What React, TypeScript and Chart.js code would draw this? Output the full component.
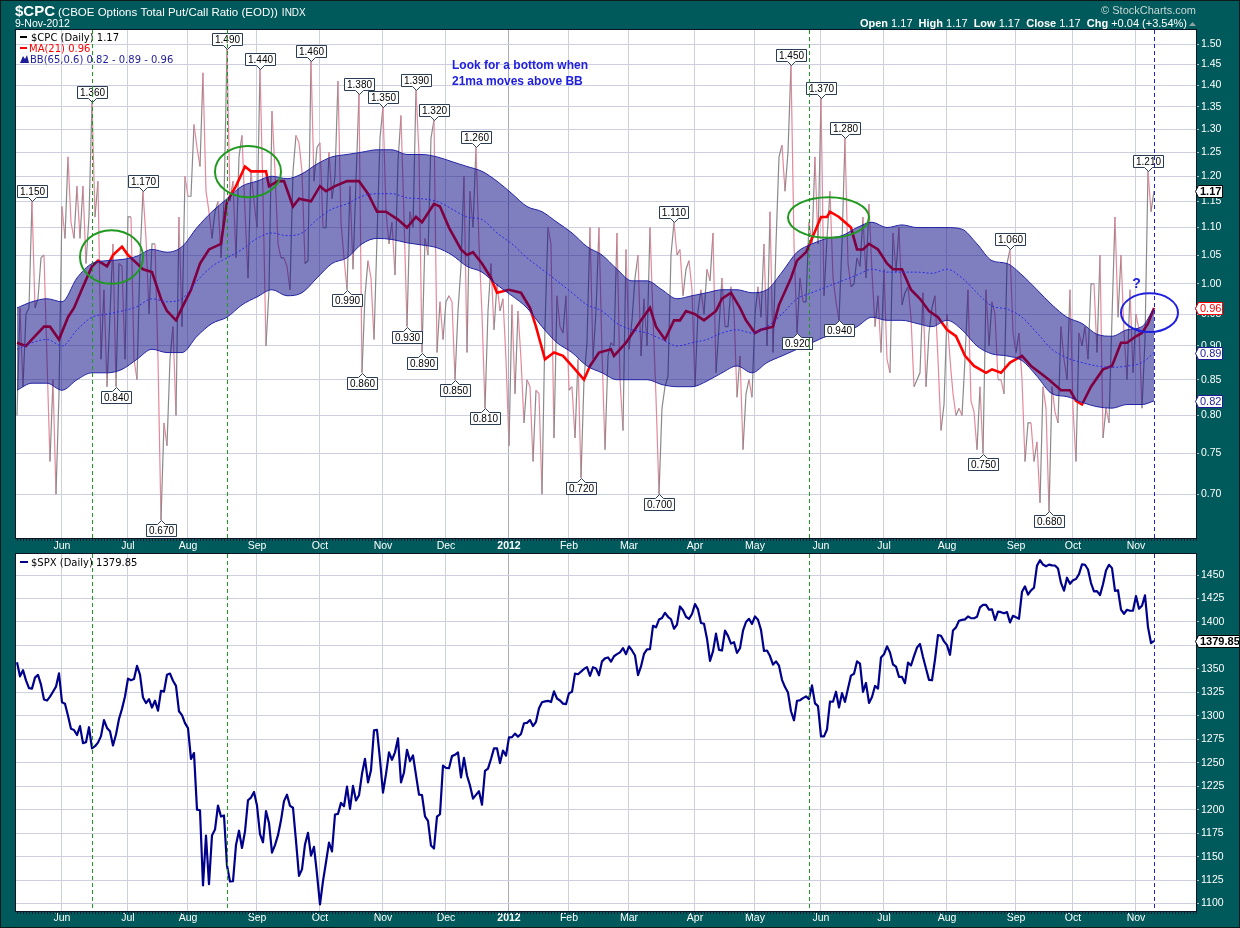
import React, { useEffect, useRef } from 'react';
import { Chart, registerables } from 'chart.js';

Chart.register(...registerables);

// ---------------- data ----------------
const chartDate = '9-Nov-2012';
const monthLabels = ['Jun', 'Jul', 'Aug', 'Sep', 'Oct', 'Nov', 'Dec', '2012', 'Feb', 'Mar', 'Apr', 'May', 'Jun', 'Jul', 'Aug', 'Sep', 'Oct', 'Nov'];
// trading days per month, May-2011 (partial, from May 10) .. Nov-2012 (to Nov 9)
const monthTradingDays = [15, 22, 20, 23, 21, 21, 21, 21, 20, 20, 22, 20, 22, 21, 21, 23, 19, 21, 7];

const cpcTicks = [0.7, 0.75, 0.8, 0.85, 0.9, 0.95, 1.0, 1.05, 1.1, 1.15, 1.2, 1.25, 1.3, 1.35, 1.4, 1.45, 1.5];
const spxTicks = [1100, 1125, 1150, 1175, 1200, 1225, 1250, 1275, 1300, 1325, 1350, 1375, 1400, 1425, 1450];

// $CPC daily close (trading day 0 = 10-May-2011)
const cpcClose = [
  0.80, 0.96, 0.84, 0.95, 0.96, 1.15, 0.96, 0.975, 1.045, 1.05,
  0.88, 0.74, 0.85, 0.70, 0.83, 1.14, 1.08, 1.24, 1.11, 1.08,
  1.18, 1.08, 1.18, 1.035, 1.12, 1.36, 1.12, 1.19, 0.88, 0.99,
  0.84, 0.95, 1.07, 0.84, 1.035, 1.03, 0.88, 1.12, 1.12, 0.88,
  0.85, 1.045, 1.17, 1.08, 0.95, 1.07, 1.07, 0.88, 0.67, 0.79,
  0.76, 0.88, 0.93, 0.80, 1.12, 0.93, 1.20, 1.16, 1.16, 1.31,
  1.26, 1.22, 1.43, 1.17, 1.13, 1.08, 1.13, 1.15, 1.045, 1.15,
  1.49, 1.15, 1.19, 1.045, 1.24, 1.286, 1.13, 1.01, 1.21, 1.15,
  1.10, 1.44, 1.16, 0.90, 0.99, 1.34, 1.21, 1.07, 1.045, 1.045,
  1.03, 0.99, 1.21, 1.286, 1.27, 1.21, 1.035, 1.04, 1.46, 1.19,
  1.26, 1.27, 1.10, 1.10, 1.25, 1.155, 1.20, 1.41, 1.11, 1.045,
  0.99, 1.18, 1.025, 1.19, 1.38, 0.86, 0.98, 1.04, 1.01, 0.91,
  1.08, 1.28, 1.35, 1.13, 1.07, 1.11, 1.015, 1.23, 1.33, 1.12,
  0.93, 1.13, 1.10, 1.39, 1.245, 0.89, 1.08, 1.05, 1.28, 1.32,
  0.89, 0.97, 0.91, 0.97, 0.98, 0.97, 0.85, 0.955, 1.03, 1.20,
  0.89, 1.17, 1.10, 1.26, 1.07, 0.95, 0.81, 0.955, 1.035, 0.925,
  1.00, 0.955, 0.975, 0.88, 0.76, 0.965, 0.83, 0.955, 0.88, 0.79,
  0.85, 0.84, 0.74, 0.835, 0.83, 0.70, 0.93, 1.10, 1.07, 0.77,
  0.98, 0.93, 0.92, 0.98, 0.835, 0.84, 0.77, 0.88, 0.72, 0.85,
  0.905, 1.10, 0.88, 0.955, 1.10, 0.89, 0.755, 0.885, 0.905, 0.90,
  1.09, 0.85, 0.78, 1.06, 0.895, 0.94, 1.01, 1.05, 0.885, 0.975,
  0.90, 1.10, 0.945, 0.825, 0.70, 0.81, 0.84, 0.855, 1.05, 1.11,
  1.05, 1.06, 0.98, 1.025, 1.04, 0.99, 0.84, 0.955, 0.99, 0.95,
  1.025, 1.005, 1.09, 0.86, 0.93, 1.01, 0.93, 0.93, 0.995, 0.955,
  0.825, 0.885, 0.755, 0.83, 0.85, 0.825, 0.95, 0.995, 0.945, 1.07,
  0.90, 1.13, 0.89, 1.07, 1.24, 1.265, 1.17, 1.25, 1.45, 1.07,
  0.92, 1.01, 0.97, 0.97, 1.11, 1.07, 1.24, 1.07, 1.37, 0.98,
  1.08, 1.17, 1.01, 0.97, 0.94, 1.07, 1.28, 1.035, 0.995, 1.00,
  1.045, 1.03, 1.12, 1.01, 1.145, 1.02, 0.93, 0.98, 0.89, 1.025,
  0.88, 0.86, 1.09, 1.02, 1.10, 0.965, 0.985, 0.995, 0.945, 0.84,
  0.85, 0.86, 0.985, 0.84, 0.92, 0.96, 0.98, 0.88, 0.78, 0.815,
  0.95, 0.88, 0.83, 0.80, 0.81, 0.80, 0.88, 0.99, 0.82, 0.805,
  0.755, 0.84, 0.75, 0.99, 0.90, 0.97, 0.95, 0.85, 0.85, 0.83,
  1.035, 1.06, 0.92, 0.89, 0.92, 0.85, 0.74, 0.79, 0.79, 0.74,
  0.765, 0.69, 0.84, 0.81, 0.68, 0.84, 0.805, 0.79, 0.93, 0.88,
  0.85, 0.99, 0.81, 0.74, 0.92, 0.90, 0.93, 0.88, 1.00, 1.00,
  0.89, 1.05, 0.77, 0.81, 0.79, 0.945, 1.12, 0.945, 1.05, 0.92,
  0.85, 0.99, 0.86, 0.95, 0.925, 0.81, 0.91, 1.21, 1.13, 1.17,
];

// MA(21)
const maDay = [0, 3, 5, 9, 11, 14, 17, 19, 22, 25, 27, 30, 32, 35, 37, 39, 42, 45, 48, 50,
  53, 55, 58, 61, 64, 68, 70, 73, 76, 78, 80, 83, 84, 87, 89, 92, 94, 98, 101, 103,
  106, 110, 114, 117, 120, 123, 127, 130, 133, 135, 139, 141, 144, 148, 150, 152, 155, 158, 160, 164,
  168, 171, 173, 176, 179, 182, 185, 189, 191, 194, 198, 199, 201, 203, 208, 211, 213, 216, 219, 221,
  223, 226, 229, 233, 235, 238, 241, 243, 246, 248, 252, 254, 258, 260, 263, 265, 268, 270, 271, 274,
  276, 278, 280, 282, 284, 287, 290, 292, 295, 298, 301, 304, 307, 310, 313, 316, 319, 323, 325, 328,
  331, 335, 338, 341, 344, 348, 351, 353, 355, 358, 362, 365, 368, 370, 373, 375, 377, 379];
const maValue = [0.905, 0.90, 0.91, 0.93, 0.93, 0.91, 0.945, 0.96, 0.995, 1.03, 1.04, 1.03, 1.05, 1.065, 1.05, 1.04, 1.025, 1.02, 0.975, 0.955,
  0.94, 0.96, 0.99, 1.035, 1.06, 1.07, 1.15, 1.18, 1.22, 1.21, 1.21, 1.21, 1.18, 1.19, 1.19, 1.14, 1.155, 1.15, 1.18, 1.17,
  1.18, 1.19, 1.19, 1.165, 1.13, 1.13, 1.115, 1.10, 1.12, 1.11, 1.145, 1.14, 1.10, 1.06, 1.05, 1.055, 1.035, 1.01, 0.985, 0.99,
  0.985, 0.96, 0.93, 0.88, 0.89, 0.885, 0.87, 0.85, 0.87, 0.89, 0.895, 0.885, 0.895, 0.905, 0.94, 0.96, 0.93, 0.91, 0.94, 0.94,
  0.955, 0.95, 0.94, 0.955, 0.975, 0.985, 0.96, 0.94, 0.92, 0.925, 0.93, 0.965, 1.01, 1.04, 1.055, 1.08, 1.12, 1.12, 1.13, 1.12,
  1.11, 1.10, 1.06, 1.06, 1.07, 1.06, 1.035, 1.025, 1.025, 0.99, 0.975, 0.955, 0.945, 0.925, 0.915, 0.885, 0.87, 0.86, 0.865, 0.86,
  0.875, 0.885, 0.87, 0.86, 0.85, 0.835, 0.835, 0.82, 0.815, 0.84, 0.865, 0.87, 0.905, 0.905, 0.915, 0.92, 0.935, 0.96];

// BB(65,0.6)
const bbDay = [0, 5, 10, 15, 20, 25, 30, 35, 40, 45, 50, 55, 60, 65, 70, 75, 80, 85, 90, 95,
  100, 105, 110, 115, 120, 125, 130, 135, 140, 145, 150, 155, 160, 165, 170, 175, 180, 185, 190, 195,
  200, 205, 210, 215, 220, 225, 230, 235, 240, 245, 250, 255, 260, 265, 270, 275, 280, 285, 290, 295,
  300, 305, 310, 315, 320, 325, 330, 335, 340, 345, 350, 355, 360, 365, 370, 375, 379];
const bbUpper = [0.96, 0.97, 0.975, 0.97, 1.01, 1.035, 1.04, 1.042, 1.048, 1.06, 1.055, 1.065, 1.10, 1.13, 1.155, 1.18, 1.19, 1.20, 1.195, 1.205,
  1.225, 1.24, 1.245, 1.25, 1.255, 1.255, 1.245, 1.245, 1.24, 1.23, 1.22, 1.21, 1.19, 1.165, 1.14, 1.13, 1.11, 1.09, 1.065, 1.05,
  1.025, 1.005, 1.005, 0.99, 0.975, 0.98, 0.985, 0.99, 0.99, 0.985, 0.99, 1.02, 1.055, 1.07, 1.08, 1.085, 1.10, 1.11, 1.10, 1.105,
  1.10, 1.10, 1.10, 1.097, 1.07, 1.04, 1.035, 1.015, 0.99, 0.965, 0.945, 0.935, 0.918, 0.915, 0.925, 0.93, 0.96];
const bbMiddle = [0.895, 0.905, 0.91, 0.90, 0.925, 0.945, 0.95, 0.955, 0.962, 0.975, 0.97, 0.975, 1.005, 1.03, 1.045, 1.06, 1.08, 1.09, 1.085, 1.09,
  1.115, 1.135, 1.145, 1.16, 1.165, 1.165, 1.157, 1.155, 1.15, 1.135, 1.12, 1.115, 1.09, 1.07, 1.045, 1.025, 1.005, 0.985, 0.965, 0.955,
  0.935, 0.925, 0.92, 0.91, 0.90, 0.905, 0.91, 0.92, 0.925, 0.92, 0.93, 0.95, 0.975, 0.985, 0.995, 1.005, 1.015, 1.025, 1.02, 1.02,
  1.02, 1.018, 1.025, 1.01, 0.985, 0.963, 0.958, 0.945, 0.92, 0.895, 0.882, 0.875, 0.87, 0.868, 0.87, 0.875, 0.89];
const bbLower = [0.835, 0.845, 0.845, 0.835, 0.85, 0.86, 0.86, 0.865, 0.88, 0.895, 0.89, 0.89, 0.915, 0.935, 0.945, 0.965, 0.978, 0.99, 0.98, 0.985,
  1.01, 1.035, 1.045, 1.07, 1.08, 1.078, 1.072, 1.068, 1.063, 1.05, 1.03, 1.02, 0.998, 0.98, 0.96, 0.93, 0.905, 0.89, 0.87, 0.86,
  0.85, 0.85, 0.85, 0.843, 0.84, 0.84, 0.848, 0.86, 0.87, 0.86, 0.875, 0.885, 0.895, 0.905, 0.915, 0.92, 0.93, 0.945, 0.94, 0.94,
  0.935, 0.93, 0.94, 0.925, 0.90, 0.888, 0.885, 0.878, 0.855, 0.83, 0.826, 0.818, 0.812, 0.81, 0.815, 0.815, 0.82];

// $SPX daily close, same trading days
const spxClose = [
  1357.16, 1342.08, 1348.65, 1337.77, 1329.47, 1328.98, 1340.68, 1343.60, 1333.27, 1317.37, 1316.28, 1320.47, 1325.69, 1331.10, 1345.20,
  1314.55, 1312.94, 1300.16, 1286.17, 1284.94, 1279.56, 1289.00, 1270.98, 1271.83, 1287.87, 1265.42, 1267.64, 1271.50, 1278.36, 1295.52, 1287.14, 1283.50, 1268.45, 1280.10, 1296.67, 1307.41, 1320.64,
  1339.67, 1337.88, 1339.22, 1353.22, 1343.80, 1319.49, 1313.64, 1317.72, 1308.87, 1316.14, 1305.44, 1326.73, 1325.84, 1343.80, 1345.02, 1337.43, 1331.94, 1304.89, 1300.67, 1292.28,
  1286.94, 1254.05, 1260.34, 1200.07, 1199.38, 1119.46, 1172.53, 1120.76, 1172.64, 1178.81, 1204.49, 1192.76, 1193.89, 1140.65, 1123.53, 1123.82, 1162.35, 1177.60, 1159.27, 1176.80, 1210.08, 1212.92, 1218.89,
  1204.42, 1173.97, 1165.24, 1198.62, 1185.90, 1154.23, 1162.27, 1172.87, 1188.68, 1209.11, 1216.01, 1204.09, 1202.09, 1166.76, 1129.56, 1136.43, 1162.95, 1175.38, 1151.06, 1160.40, 1131.42,
  1099.23, 1123.95, 1144.03, 1164.97, 1155.46, 1194.89, 1195.54, 1207.25, 1203.66, 1224.58, 1200.86, 1225.38, 1209.88, 1215.39, 1238.25, 1254.19, 1229.05, 1242.00, 1284.59, 1285.09, 1253.30,
  1218.28, 1237.90, 1261.15, 1253.23, 1261.12, 1275.92, 1229.10, 1239.70, 1263.85, 1251.78, 1257.81, 1236.91, 1216.13, 1215.65, 1192.98, 1188.04, 1161.79, 1158.67, 1192.55, 1195.19, 1246.96,
  1244.58, 1244.28, 1257.08, 1258.47, 1261.01, 1234.35, 1255.19, 1236.47, 1225.73, 1211.82, 1215.75, 1219.66, 1205.35, 1241.30, 1243.72, 1254.00, 1265.33, 1265.43, 1249.64, 1263.02, 1257.60,
  1277.06, 1277.30, 1281.06, 1277.81, 1280.70, 1292.08, 1292.48, 1295.50, 1289.09, 1293.67, 1308.04, 1314.50, 1315.38, 1316.00, 1314.65, 1326.06, 1318.43, 1316.33, 1313.01, 1312.41,
  1324.09, 1325.54, 1344.90, 1344.33, 1347.05, 1349.96, 1351.95, 1342.64, 1351.77, 1350.50, 1343.23, 1358.04, 1361.23, 1362.21, 1357.66, 1363.46, 1365.74, 1367.59, 1372.18, 1365.68,
  1374.09, 1369.63, 1364.33, 1343.36, 1352.63, 1365.91, 1370.87, 1371.09, 1395.95, 1394.28, 1402.60, 1404.17, 1409.75, 1405.52, 1402.89, 1392.78, 1397.11, 1416.51, 1412.52, 1405.54, 1403.28, 1408.47,
  1419.04, 1413.38, 1398.96, 1398.08, 1382.20, 1358.59, 1368.71, 1387.57, 1370.26, 1369.57, 1390.78, 1385.14, 1376.92, 1378.53, 1366.94, 1371.97, 1390.69, 1399.98, 1403.36, 1397.91,
  1405.82, 1402.31, 1391.57, 1369.10, 1369.58, 1363.72, 1354.58, 1357.99, 1353.39, 1338.35, 1330.66, 1324.80, 1304.86, 1295.22, 1315.99, 1316.63, 1318.86, 1320.68, 1317.82, 1332.42, 1313.32, 1310.33,
  1278.04, 1278.18, 1285.50, 1315.13, 1314.99, 1325.66, 1308.93, 1324.18, 1314.88, 1329.10, 1342.84, 1344.78, 1357.98, 1355.69, 1325.51, 1335.02, 1313.72, 1319.99, 1331.85, 1329.04, 1362.16,
  1365.51, 1374.02, 1367.58, 1354.68, 1352.46, 1341.47, 1341.45, 1334.76, 1356.78, 1353.64, 1363.67, 1372.78, 1376.51, 1362.66, 1350.52, 1338.31, 1337.89, 1360.02, 1385.97, 1385.30, 1379.32,
  1375.32, 1365.00, 1390.99, 1394.23, 1401.35, 1402.22, 1402.80, 1405.87, 1404.11, 1403.93, 1405.53, 1415.51, 1418.16, 1418.13, 1413.17, 1413.49, 1402.08, 1411.13, 1410.44, 1409.30, 1410.49, 1399.48, 1406.58,
  1404.94, 1403.44, 1432.12, 1437.92, 1429.08, 1433.56, 1436.56, 1459.99, 1465.77, 1461.19, 1459.32, 1461.05, 1460.26, 1460.15, 1456.89, 1441.59, 1433.32, 1447.15, 1440.67,
  1444.49, 1445.75, 1450.99, 1461.40, 1460.93, 1455.88, 1441.48, 1432.56, 1432.84, 1428.59, 1440.13, 1454.92, 1460.91, 1457.34, 1433.19, 1433.82, 1413.11, 1408.75, 1412.97, 1411.94, 1412.16,
  1427.59, 1414.20, 1417.26, 1428.39, 1394.53, 1377.51, 1379.85,
];

// annotations
const calloutDays = [5, 25, 33, 42, 48, 70, 81, 98, 110, 114, 115, 122, 130, 133, 135, 139, 146, 153, 156, 188, 214, 219, 258, 260, 268, 274, 276, 322, 331, 344, 377];
const greenMarkerDays = [25, 70, 264];
const ellipseNotes = [
  { from: 21, to: 42, lo: 1.0, hi: 1.095, color: 'green' },
  { from: 66, to: 88, lo: 1.158, hi: 1.263, color: 'green' },
  { from: 257, to: 284, lo: 1.081, hi: 1.158, color: 'green' },
  { from: 368, to: 387, lo: 0.9215, hi: 0.984, color: 'blue' },
];
const noteLines = ['Look for a bottom when', '21ma moves above BB'];
const noteDay = 145;
const noteValues = [1.438, 1.40];
const questionDay = 373.2;
const questionValue = 0.993;

// ---------------- styling ----------------
const TEAL = '#00595a';
const GRID = '#cfd0de';
const CPC_UP = '#8a8a8a';
const CPC_DOWN = '#e5889c';
const MA_RED = '#ff0000';
const BB_EDGE = '#2222a6';
const BB_FILL = 'rgba(0,0,128,0.5)';
const BB_MID = '#2a2ae8';
const SPX_NAVY = '#00008b';
const GREEN = '#1f991f';
const BLUE = '#2020e0';
const SANS = '"Liberation Sans", Arial, sans-serif';
const VERD = '"DejaVu Sans", Verdana, sans-serif';
const X_MIN = -0.33;
const X_MAX = 393;

const monthStart: number[] = [];
{
  let acc = 0;
  for (let i = 0; i < monthTradingDays.length - 1; i++) {
    acc += monthTradingDays[i];
    monthStart.push(acc);
  }
}
const lastDay = cpcClose.length - 1;

function xAxis(height: number, padding: number) {
  return {
    type: 'linear',
    min: X_MIN,
    max: X_MAX,
    position: 'bottom',
    afterBuildTicks: (s: any) => {
      s.ticks = monthStart.map((v) => ({ value: v }));
    },
    afterFit: (s: any) => {
      s.height = height;
    },
    ticks: {
      autoSkip: false,
      maxRotation: 0,
      minRotation: 0,
      padding,
      color: '#ffffff',
      font: (c: any) => ({ family: SANS, size: 10.5, weight: monthLabels[c.index] === '2012' ? 'bold' : 'normal' }),
      callback: (_v: any, i: number) => monthLabels[i],
    },
    grid: {
      color: (c: any) => (monthLabels[c.index] === '2012' ? '#a9aabb' : GRID),
      drawTicks: false,
      lineWidth: 1,
    },
    border: { display: false },
  };
}

function yAxisCommon(ticks: number[], fmt: (v: number) => string) {
  return {
    position: 'right',
    afterBuildTicks: (s: any) => {
      s.ticks = ticks.map((v) => ({ value: v }));
    },
    afterFit: (s: any) => {
      s.width = 44;
    },
    ticks: {
      autoSkip: false,
      color: '#ffffff',
      padding: 2,
      font: { family: SANS, size: 10.5 },
      callback: (v: any) => fmt(Number(v)),
    },
    grid: { color: GRID, tickColor: '#a8c0c0', tickLength: 3, drawTicks: true, lineWidth: 1 },
    border: { display: false },
  };
}

const whitePlot = {
  id: 'whitePlot',
  beforeDraw(chart: any) {
    const { ctx, chartArea: ca } = chart;
    ctx.save();
    ctx.fillStyle = '#ffffff';
    ctx.fillRect(ca.left, ca.top, ca.right - ca.left, ca.bottom - ca.top);
    ctx.restore();
  },
};

function drawPlotFrame(chart: any) {
  const { ctx, chartArea: ca, scales } = chart;
  ctx.save();
  ctx.strokeStyle = '#0c1426';
  ctx.lineWidth = 1;
  ctx.strokeRect(Math.round(ca.left) - 0.5, Math.round(ca.top) - 0.5, Math.round(ca.right - ca.left) + 1, Math.round(ca.bottom - ca.top) + 1);
  ctx.strokeStyle = '#0d1c33';
  ctx.beginPath();
  for (let d = 0; d <= Math.floor(X_MAX); d++) {
    const px = Math.round(scales.x.getPixelForValue(d)) + 0.5;
    ctx.moveTo(px, ca.bottom + 1);
    ctx.lineTo(px, ca.bottom + 3);
  }
  ctx.stroke();
  ctx.restore();
}

function vDashed(ctx: CanvasRenderingContext2D, x: number, top: number, bottom: number, color: string) {
  ctx.save();
  ctx.strokeStyle = color;
  ctx.lineWidth = 1;
  ctx.setLineDash([4, 3]);
  const px = Math.round(x) + 0.5;
  ctx.beginPath();
  ctx.moveTo(px, top);
  ctx.lineTo(px, bottom);
  ctx.stroke();
  ctx.restore();
}

function callout(ctx: CanvasRenderingContext2D, x: number, y: number, text: string, above: boolean) {
  ctx.font = `10px ${SANS}`;
  const w = Math.round(ctx.measureText(text).width) + 5;
  const h = 12;
  const p = 4;
  const left = Math.round(x - w / 2) + 0.5;
  const xr = Math.round(x) + 0.5;
  let top: number;
  ctx.beginPath();
  if (above) {
    top = Math.round(y - p - h) + 0.5;
    ctx.moveTo(left, top);
    ctx.lineTo(left + w, top);
    ctx.lineTo(left + w, top + h);
    ctx.lineTo(xr + 4, top + h);
    ctx.lineTo(xr, top + h + p);
    ctx.lineTo(xr - 4, top + h);
    ctx.lineTo(left, top + h);
  } else {
    top = Math.round(y + p) + 0.5;
    ctx.moveTo(left, top);
    ctx.lineTo(xr - 4, top);
    ctx.lineTo(xr, top - p);
    ctx.lineTo(xr + 4, top);
    ctx.lineTo(left + w, top);
    ctx.lineTo(left + w, top + h);
    ctx.lineTo(left, top + h);
  }
  ctx.closePath();
  ctx.fillStyle = '#ffffff';
  ctx.fill();
  ctx.strokeStyle = '#2b3d55';
  ctx.lineWidth = 1;
  ctx.stroke();
  ctx.fillStyle = '#000000';
  ctx.textAlign = 'center';
  ctx.textBaseline = 'middle';
  ctx.fillText(text, left + w / 2, top + h / 2 + 0.5);
}

function valueTag(ctx: CanvasRenderingContext2D, x: number, y: number, text: string, border: string, color: string, bold: boolean) {
  ctx.font = `${bold ? 'bold ' : ''}11px ${SANS}`;
  const w = Math.round(ctx.measureText(text).width) + 3;
  const h = 12;
  const a = 3;
  const yc = Math.round(y) + 0.5;
  const x0 = Math.round(x) + 0.5;
  ctx.beginPath();
  ctx.moveTo(x0, yc);
  ctx.lineTo(x0 + a, yc - h / 2);
  ctx.lineTo(x0 + a + w, yc - h / 2);
  ctx.lineTo(x0 + a + w, yc + h / 2);
  ctx.lineTo(x0 + a, yc + h / 2);
  ctx.closePath();
  ctx.fillStyle = '#ffffff';
  ctx.fill();
  ctx.strokeStyle = border;
  ctx.lineWidth = 1;
  ctx.stroke();
  ctx.fillStyle = color;
  ctx.textAlign = 'left';
  ctx.textBaseline = 'middle';
  ctx.fillText(text, x0 + a + 1.5, yc + 0.5);
}

const topOverlay = {
  id: 'topOverlay',
  afterDraw(chart: any) {
    const { ctx, chartArea: ca, scales } = chart;
    const xs = scales.x;
    const ys = scales.y;
    drawPlotFrame(chart);

    ctx.save();
    ctx.beginPath();
    ctx.rect(ca.left, ca.top, ca.right - ca.left, ca.bottom - ca.top);
    ctx.clip();

    // callouts
    calloutDays.forEach((d) => {
      const v = cpcClose[d];
      const above = d === 0 || v >= cpcClose[d - 1];
      callout(ctx, xs.getPixelForValue(d), ys.getPixelForValue(v), v.toFixed(3), above);
    });

    // ellipses
    ellipseNotes.forEach((e) => {
      const x1 = xs.getPixelForValue(e.from);
      const x2 = xs.getPixelForValue(e.to);
      const y1 = ys.getPixelForValue(e.hi);
      const y2 = ys.getPixelForValue(e.lo);
      ctx.beginPath();
      ctx.ellipse((x1 + x2) / 2, (y1 + y2) / 2, (x2 - x1) / 2, (y2 - y1) / 2, 0, 0, Math.PI * 2);
      ctx.strokeStyle = e.color === 'green' ? GREEN : BLUE;
      ctx.lineWidth = 2;
      ctx.stroke();
    });

    // note text
    ctx.fillStyle = BLUE;
    ctx.font = `bold 12px ${SANS}`;
    ctx.textAlign = 'left';
    ctx.textBaseline = 'alphabetic';
    noteLines.forEach((t, i) => ctx.fillText(t, xs.getPixelForValue(noteDay), ys.getPixelForValue(noteValues[i])));
    ctx.font = `bold 14px ${SANS}`;
    ctx.textAlign = 'center';
    ctx.fillText('?', xs.getPixelForValue(questionDay), ys.getPixelForValue(questionValue));

    // legend
    const lx = ca.left + 4;
    ctx.textAlign = 'left';
    ctx.font = `10px ${VERD}`;
    ctx.fillStyle = '#000';
    ctx.fillRect(lx, ca.top + 6, 7, 2);
    ctx.fillText(`$CPC (Daily) ${cpcClose[lastDay].toFixed(2)}`, lx + 11, ca.top + 11);
    ctx.fillStyle = MA_RED;
    ctx.fillRect(lx, ca.top + 17, 7, 2);
    ctx.fillText(`MA(21) ${maValue[maValue.length - 1].toFixed(2)}`, lx + 9, ca.top + 22);
    ctx.fillStyle = '#1d1d9a';
    ctx.beginPath();
    ctx.moveTo(lx, ca.top + 33);
    ctx.lineTo(lx + 3, ca.top + 26);
    ctx.lineTo(lx + 5, ca.top + 29);
    ctx.lineTo(lx + 7, ca.top + 25);
    ctx.lineTo(lx + 9, ca.top + 33);
    ctx.closePath();
    ctx.fill();
    const n = bbDay.length - 1;
    ctx.fillText(`BB(65,0.6) ${bbLower[n].toFixed(2)} - ${bbMiddle[n].toFixed(2)} - ${bbUpper[n].toFixed(2)}`, lx + 10, ca.top + 33);

    // markers
    greenMarkerDays.forEach((d) => vDashed(ctx, xs.getPixelForValue(d), ca.top, ca.bottom, GREEN));
    vDashed(ctx, xs.getPixelForValue(lastDay), ca.top, ca.bottom, BLUE);
    ctx.restore();

    // header
    ctx.save();
    ctx.fillStyle = '#ffffff';
    ctx.textBaseline = 'alphabetic';
    ctx.textAlign = 'left';
    ctx.font = `bold 15px ${SANS}`;
    ctx.fillText('$CPC', 15, 16);
    let hx = 15 + ctx.measureText('$CPC').width + 3;
    ctx.font = `11.5px ${SANS}`;
    const title = '(CBOE Options Total Put/Call Ratio (EOD))';
    ctx.fillText(title, hx, 16);
    hx += ctx.measureText(title).width + 4;
    ctx.font = `10px ${SANS}`;
    ctx.fillText('INDX', hx, 16);
    ctx.font = `10.5px ${SANS}`;
    ctx.fillText(chartDate, 15, 27);

    ctx.textAlign = 'right';
    ctx.fillStyle = '#c9d6d6';
    ctx.font = `11px ${SANS}`;
    ctx.fillText('\u00A9 StockCharts.com', 1196, 14);

    const last = cpcClose[lastDay];
    const prev = cpcClose[lastDay - 1];
    const chg = last - prev;
    const pct = (chg / prev) * 100;
    const parts: [string, boolean][] = [
      ['Open ', true], [last.toFixed(2) + '  ', false],
      ['High ', true], [last.toFixed(2) + '  ', false],
      ['Low ', true], [last.toFixed(2) + '  ', false],
      ['Close ', true], [last.toFixed(2) + '  ', false],
      ['Chg ', true], [`${chg >= 0 ? '+' : ''}${chg.toFixed(2)} (${chg >= 0 ? '+' : ''}${pct.toFixed(2)}%)`, false],
    ];
    let total = 0;
    parts.forEach(([t, b]) => {
      ctx.font = `${b ? 'bold ' : ''}11px ${SANS}`;
      total += ctx.measureText(t).width;
    });
    let px = 1187 - total;
    ctx.textAlign = 'left';
    ctx.fillStyle = '#ffffff';
    parts.forEach(([t, b]) => {
      ctx.font = `${b ? 'bold ' : ''}11px ${SANS}`;
      ctx.fillText(t, px, 27);
      px += ctx.measureText(t).width;
    });
    ctx.fillStyle = '#8fa3a3';
    ctx.beginPath();
    ctx.moveTo(1189, 26);
    ctx.lineTo(1196, 26);
    ctx.lineTo(1192.5, 22);
    ctx.closePath();
    ctx.fill();

    // value tags on the axis
    const tx = ca.right - 1;
    valueTag(ctx, tx, ys.getPixelForValue(bbUpper[n]), bbUpper[n].toFixed(2), '#1d1d9a', '#1d1d9a', false);
    valueTag(ctx, tx, ys.getPixelForValue(bbMiddle[n]), bbMiddle[n].toFixed(2), '#1d1d9a', '#1d1d9a', false);
    valueTag(ctx, tx, ys.getPixelForValue(bbLower[n]), bbLower[n].toFixed(2), '#1d1d9a', '#1d1d9a', false);
    valueTag(ctx, tx, ys.getPixelForValue(maValue[maValue.length - 1]), maValue[maValue.length - 1].toFixed(2), MA_RED, MA_RED, false);
    valueTag(ctx, tx, ys.getPixelForValue(cpcClose[lastDay]), cpcClose[lastDay].toFixed(2), '#000', '#000', true);
    ctx.restore();
  },
};

const bottomOverlay = {
  id: 'bottomOverlay',
  afterDraw(chart: any) {
    const { ctx, chartArea: ca, scales } = chart;
    const xs = scales.x;
    const ys = scales.y;
    drawPlotFrame(chart);
    ctx.save();
    ctx.beginPath();
    ctx.rect(ca.left, ca.top, ca.right - ca.left, ca.bottom - ca.top);
    ctx.clip();
    const lx = ca.left + 4;
    ctx.fillStyle = SPX_NAVY;
    ctx.fillRect(lx, ca.top + 7, 8, 2);
    ctx.fillStyle = '#000';
    ctx.font = `10px ${VERD}`;
    ctx.textAlign = 'left';
    ctx.textBaseline = 'alphabetic';
    ctx.fillText(`$SPX (Daily) ${spxClose[lastDay].toFixed(2)}`, lx + 11, ca.top + 12);
    greenMarkerDays.forEach((d) => vDashed(ctx, xs.getPixelForValue(d), ca.top, ca.bottom, GREEN));
    vDashed(ctx, xs.getPixelForValue(lastDay), ca.top, ca.bottom, BLUE);
    ctx.restore();
    ctx.save();
    valueTag(ctx, ca.right - 1, ys.getPixelForValue(spxClose[lastDay]), spxClose[lastDay].toFixed(2), '#000', '#000', true);
    ctx.restore();
  },
};

function topConfig(): any {
  const cpcPts = cpcClose.map((v, i) => ({ x: i, y: v }));
  const maPts = maDay.map((d, i) => ({ x: d, y: maValue[i] }));
  const upPts = bbDay.map((d, i) => ({ x: d, y: bbUpper[i] }));
  const loPts = bbDay.map((d, i) => ({ x: d, y: bbLower[i] }));
  const midPts = bbDay.map((d, i) => ({ x: d, y: bbMiddle[i] }));
  return {
    type: 'line',
    data: {
      datasets: [
        {
          label: '$CPC', data: cpcPts, order: 4, borderWidth: 1.2, pointRadius: 0, fill: false,
          borderColor: CPC_UP,
          segment: { borderColor: (c: any) => (c.p1.parsed.y >= c.p0.parsed.y ? CPC_UP : CPC_DOWN) },
        },
        { label: 'MA(21)', data: maPts, order: 3, borderColor: MA_RED, borderWidth: 2.6, pointRadius: 0, fill: false },
        { label: 'BB upper', data: upPts, order: 2, borderColor: BB_EDGE, borderWidth: 1, pointRadius: 0, fill: '+1', backgroundColor: BB_FILL, cubicInterpolationMode: 'monotone' },
        { label: 'BB lower', data: loPts, order: 1, borderColor: BB_EDGE, borderWidth: 1, pointRadius: 0, fill: false, cubicInterpolationMode: 'monotone' },
        { label: 'BB mid', data: midPts, order: 0, borderColor: BB_MID, borderWidth: 1, borderDash: [2, 2], pointRadius: 0, fill: false, cubicInterpolationMode: 'monotone' },
      ],
    },
    options: {
      animation: false,
      responsive: false,
      devicePixelRatio: 1,
      events: [],
      layout: { padding: { left: 16, top: 30, right: 0, bottom: 0 } },
      plugins: { legend: { display: false }, tooltip: { enabled: false } },
      scales: {
        x: xAxis(16, 2),
        y: { type: 'logarithmic', min: 0.65, max: 1.5375, ...yAxisCommon(cpcTicks, (v) => v.toFixed(2)) },
      },
    },
    plugins: [whitePlot, topOverlay],
  };
}

function bottomConfig(): any {
  const spxPts = spxClose.map((v, i) => ({ x: i, y: v }));
  return {
    type: 'line',
    data: {
      datasets: [
        { label: '$SPX', data: spxPts, borderColor: SPX_NAVY, borderWidth: 2.2, pointRadius: 0, fill: false, borderJoinStyle: 'round' },
      ],
    },
    options: {
      animation: false,
      responsive: false,
      devicePixelRatio: 1,
      events: [],
      layout: { padding: { left: 16, top: 14, right: 0, bottom: 0 } },
      plugins: { legend: { display: false }, tooltip: { enabled: false } },
      scales: {
        x: xAxis(17, 1),
        y: { type: 'linear', min: 1092.1, max: 1472.4, ...yAxisCommon(spxTicks, (v) => String(v)) },
      },
    },
    plugins: [whitePlot, bottomOverlay],
  };
}

export default function App() {
  const topRef = useRef<HTMLCanvasElement>(null);
  const botRef = useRef<HTMLCanvasElement>(null);
  useEffect(() => {
    const top = new Chart(topRef.current as HTMLCanvasElement, topConfig());
    const bot = new Chart(botRef.current as HTMLCanvasElement, bottomConfig());
    return () => {
      top.destroy();
      bot.destroy();
    };
  }, []);
  return (
    <div style={{ position: 'fixed', left: 0, top: 0, width: 1240, height: 928, background: TEAL, overflow: 'hidden' }}>
      <canvas ref={topRef} width={1240} height={554} style={{ position: 'absolute', left: 0, top: 0, width: 1240, height: 554 }} />
      <canvas ref={botRef} width={1240} height={388} style={{ position: 'absolute', left: 0, top: 540, width: 1240, height: 388 }} />
      <div style={{ position: 'absolute', left: 0, top: 0, width: 1238, height: 926, border: '1px solid #0a1a1a', pointerEvents: 'none' }} />
    </div>
  );
}
